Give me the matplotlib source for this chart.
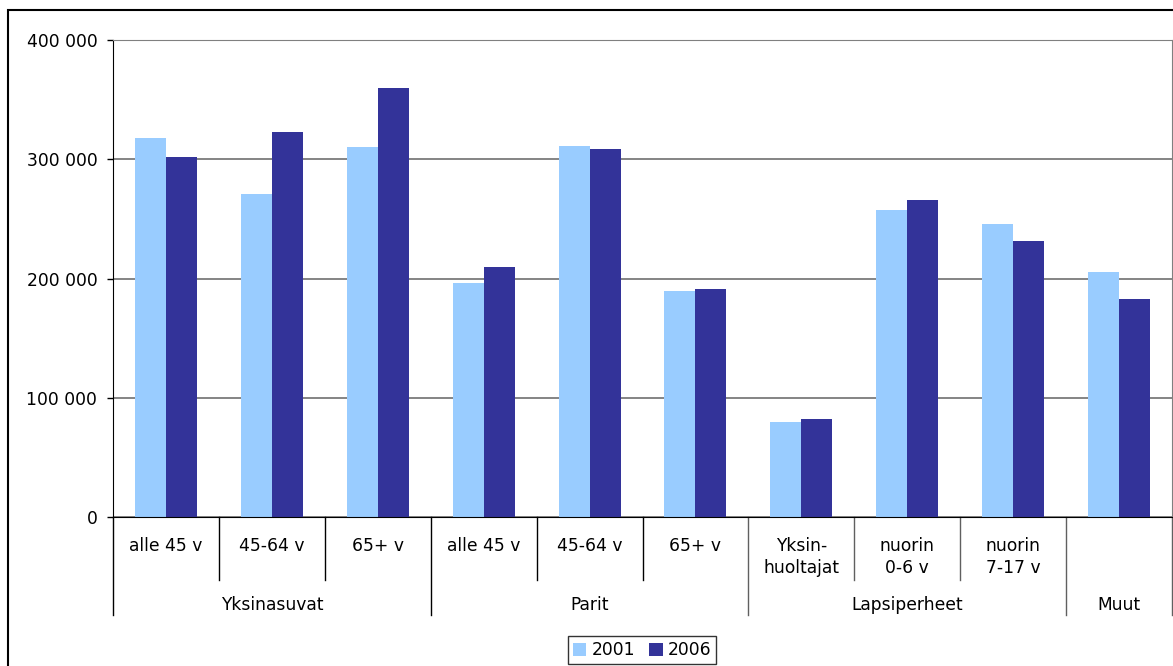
import matplotlib
matplotlib.use("Agg")
import matplotlib.pyplot as plt
from matplotlib.patches import Rectangle
from matplotlib.ticker import FuncFormatter

plt.rcParams['font.family'] = ['DejaVu Sans']

sub_labels = ["alle 45 v", "45-64 v", "65+ v", "alle 45 v", "45-64 v", "65+ v",
              "Yksin-\nhuoltajat", "nuorin\n0-6 v", "nuorin\n7-17 v", ""]
groups = ["Yksinasuvat", "Parit", "Lapsiperheet", "Muut"]
group_sizes = [3, 3, 3, 1]
series_names = ["2001", "2006"]
values_2001 = [317800, 270900, 310300, 196200, 311100, 189500, 79700, 257400, 245700, 205500]
values_2006 = [301900, 322900, 359700, 209600, 308600, 191200, 82200, 265800, 231400, 182800]
yticks = [0, 100000, 200000, 300000, 400000]

W, H = 1173, 666
fig = plt.figure(figsize=(W / 100, H / 100), dpi=100)
ax = fig.add_axes([113 / W, (H - 517) / H, (1172 - 113) / W, (517 - 40) / H])

FS = 12.3
n = len(sub_labels)
x = list(range(n))
bw = 0.293
ax.bar([i - bw / 2 for i in x], values_2001, width=bw, color="#99CCFF", label=series_names[0], zorder=3)
ax.bar([i + bw / 2 for i in x], values_2006, width=bw, color="#333399", label=series_names[1], zorder=3)

ax.set_xlim(-0.5, n - 0.5)
ax.set_ylim(0, 400000)
ax.set_yticks(yticks)
ax.yaxis.set_major_formatter(FuncFormatter(lambda v, p: f"{int(v):,}".replace(",", " ")))
ax.tick_params(axis='y', direction='out', length=4.3, width=1, pad=7, labelsize=FS, colors='black')
ax.set_xticks([])
ax.grid(axis='y', color='#707070', lw=1.2, zorder=1)

for side in ['top', 'right']:
    ax.spines[side].set_color('#808080')
ax.spines['left'].set_color('black')
ax.spines['bottom'].set_color('black')
ax.spines['bottom'].set_zorder(4)

tr = ax.get_xaxis_transform()
ax_h = 517 - 40
def yf(py):
    return (517 - py) / ax_h

boundaries_group = [-0.5]
acc = -0.5
for s in group_sizes:
    acc += s
    boundaries_group.append(acc)
for b in range(n + 1):
    xb = b - 0.5
    bottom = 615 if xb in boundaries_group else 580
    ax.plot([xb, xb], [0, yf(bottom)], transform=tr, color='black' if xb < 5 else '#606060', lw=1, clip_on=False)

for i, lab in enumerate(sub_labels):
    for j, line in enumerate(lab.split("\n")):
        ax.text(i, yf(546 + 22 * j), line, transform=tr, ha='center', va='center', fontsize=FS)

start = -0.5
for g, s in zip(groups, group_sizes):
    ax.text(start + s / 2, yf(605), g, transform=tr, ha='center', va='center', fontsize=FS)
    start += s

fig.add_artist(Rectangle((8 / W, -0.1), 1.2, (H - 10) / H + 0.1, transform=fig.transFigure,
                         fill=False, edgecolor='black', lw=1.5, clip_on=False))

leg = fig.legend(loc='center', bbox_to_anchor=(642 / W, (H - 650) / H), ncol=2, fontsize=FS,
                 frameon=True, fancybox=False, edgecolor='black', handlelength=0.8, handleheight=0.8,
                 handletextpad=0.3, columnspacing=0.8, borderpad=0.3, borderaxespad=0)
leg.get_frame().set_linewidth(1)

fig.savefig("out.png", dpi=100)
